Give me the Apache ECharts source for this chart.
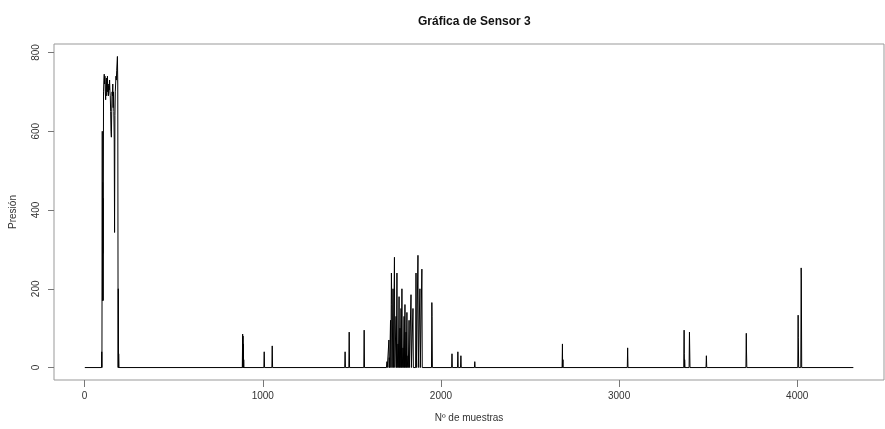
<!DOCTYPE html>
<html>
<head>
<meta charset="utf-8">
<script src="https://cdn.jsdelivr.net/npm/echarts@6/dist/echarts.min.js"></script>
<style>html,body{margin:0;padding:0;background:#fff;}#c{width:885px;height:429px;}</style>
</head>
<body>
<div id="c"></div>
<script>
// Sample index (Nº de muestras) and pressure value (Presión).
// Zero points bracketing each spike are listed explicitly. Each line holds matching entries.
const sampleIdx = [
  1, 95, 96, 97, 99, 100, 101, 102, 103, 104,
  106, 108, 110, 112, 114, 116, 118, 120, 122, 124,
  126, 128, 130, 132, 134, 136, 138, 140, 142, 144,
  146, 148, 150, 152, 154, 156, 158, 160, 162, 164,
  166, 168, 170, 172, 174, 176, 178, 180, 182, 184,
  186, 188, 189, 190, 191, 193,
  885, 887, 888, 889, 890, 891, 892, 893, 894,
  1006, 1008, 1010, 1051, 1053, 1055,
  1460, 1462, 1464, 1483, 1485, 1487, 1567, 1569, 1571,
  1694, 1697, 1699, 1706, 1708, 1709, 1710, 1712, 1717, 1719,
  1722, 1724, 1726, 1731, 1733, 1737, 1739, 1741, 1748, 1750,
  1753, 1755, 1759, 1761, 1765, 1767, 1770, 1772, 1776, 1778,
  1781, 1783, 1787, 1789, 1793, 1795, 1798, 1800, 1804, 1806,
  1809, 1811, 1815, 1817, 1821, 1823, 1830, 1832, 1834, 1841,
  1843, 1845, 1858, 1860, 1862, 1869, 1871, 1873, 1880, 1882,
  1884, 1891, 1893, 1895, 1947, 1949, 1950, 1952,
  2060, 2062, 2064, 2093, 2095, 2097, 2110, 2112, 2114, 2188, 2190, 2192,
  2680, 2682, 2683, 2685, 2686, 3046, 3048, 3050,
  3363, 3365, 3366, 3367, 3368, 3370, 3393, 3395, 3396, 3398, 3488, 3490, 3492,
  3712, 3714, 3715, 3717, 4003, 4005, 4006, 4008, 4020, 4022, 4023, 4025,
  4315
];
const pressure = [
  0, 0, 40, 0, 600, 170, 470, 290, 430, 170,
  700, 730, 745, 720, 740, 700, 680, 720, 735, 690,
  710, 740, 700, 720, 690, 715, 705, 730, 700, 690,
  650, 600, 585, 650, 700, 690, 720, 660, 700, 650,
  580, 343, 640, 700, 720, 740, 730, 755, 760, 790,
  720, 0, 200, 0, 35, 0,
  0, 85, 0, 80, 0, 60, 0, 20, 0,
  0, 40, 0, 0, 55, 0,
  0, 40, 0, 0, 90, 0, 0, 95, 0,
  0, 15, 0, 0, 70, 0, 25, 0, 120, 0,
  240, 160, 0, 200, 0, 0, 280, 0, 130, 0,
  240, 0, 60, 0, 180, 0, 100, 0, 150, 0,
  200, 0, 50, 0, 130, 0, 160, 0, 90, 0,
  140, 0, 30, 0, 120, 0, 0, 185, 0, 0,
  150, 0, 0, 240, 0, 0, 285, 0, 0, 200,
  0, 0, 250, 0, 0, 165, 130, 0,
  0, 35, 0, 0, 40, 0, 0, 30, 0, 0, 15, 0,
  0, 60, 0, 20, 0, 0, 50, 0,
  0, 95, 35, 0, 20, 0, 0, 90, 60, 0, 0, 30, 0,
  0, 87, 47, 0, 0, 133, 77, 0, 0, 253, 225, 0,
  0
];
const xTicks = [0, 1000, 2000, 3000, 4000];
const yTicks = [0, 200, 400, 600, 800];

const data = sampleIdx.map((x, i) => [x, pressure[i]]);
const chart = echarts.init(document.getElementById('c'), null, {renderer: 'canvas'});
const font = '"Liberation Sans", Arial, sans-serif';
chart.setOption({
  animation: false,
  backgroundColor: '#fff',
  title: {
    text: 'Gráfica de Sensor 3',
    left: 413, top: 11,
    textStyle: {fontFamily: font, fontSize: 12, fontWeight: 'bold', color: '#111'}
  },
  grid: {left: 53, right: 1, top: 44, bottom: 49, show: true, borderColor: '#999', borderWidth: 1, containLabel: false},
  xAxis: {
    type: 'value', min: -172, max: 4487,
    name: 'Nº de muestras', nameLocation: 'middle', nameGap: 33,
    nameTextStyle: {fontFamily: font, fontSize: 10, color: '#333'},
    axisLine: {show: false, onZero: false}, splitLine: {show: false},
    axisTick: {show: true, customValues: xTicks, length: 7, inside: false, lineStyle: {color: '#777'}},
    axisLabel: {customValues: xTicks, margin: 11, fontFamily: font, fontSize: 10, color: '#333',
      formatter: v => String(v)}
  },
  yAxis: {
    type: 'value', min: -31.6, max: 821.6,
    name: 'Presión', nameLocation: 'middle', nameGap: 36,
    nameTextStyle: {fontFamily: font, fontSize: 10, color: '#333'},
    axisLine: {show: false, onZero: false}, splitLine: {show: false},
    axisTick: {show: true, customValues: yTicks, length: 6, lineStyle: {color: '#777'}},
    axisLabel: {customValues: yTicks, rotate: 90, margin: 13, fontFamily: font, fontSize: 10, color: '#333',
      formatter: v => String(v)}
  },
  series: [{
    type: 'line', data: data, showSymbol: false, symbol: 'none',
    lineStyle: {color: '#000', width: 1}, silent: true
  }]
});
</script>
</body>
</html>
